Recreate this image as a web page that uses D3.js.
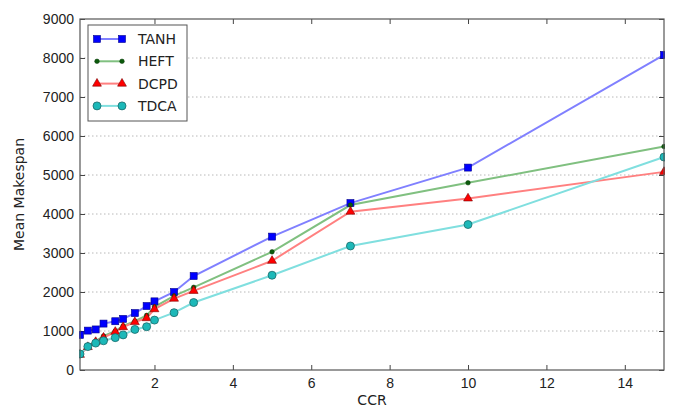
<!DOCTYPE html>
<html>
<head>
<meta charset="utf-8">
<script src="https://cdn.jsdelivr.net/npm/d3@7"></script>
<style>
  body { margin: 0; background: #fff; }
  svg { display: block; font-family: "DejaVu Sans", sans-serif; }
</style>
</head>
<body>
<div id="chart"></div>
<script>
// Data
const ccr = [0.1, 0.3, 0.5, 0.7, 1.0, 1.2, 1.5, 1.8, 2.0, 2.5, 3, 5, 7, 10, 15];
const tanh = [900, 1010, 1040, 1190, 1250, 1310, 1460, 1640, 1760, 2000, 2410, 3420, 4280, 5190, 8080];
const heft = [420, 600, 740, 870, 1000, 1130, 1250, 1400, 1620, 1900, 2120, 3030, 4230, 4800, 5730];
const dcpd = [390, 590, 720, 830, 980, 1100, 1230, 1330, 1560, 1830, 2030, 2800, 4060, 4400, 5080];
const tdca = [410, 600, 690, 750, 830, 900, 1040, 1110, 1280, 1470, 1730, 2430, 3180, 3730, 5460];
const xTicks = [2, 4, 6, 8, 10, 12, 14];
const yTicks = [0, 1000, 2000, 3000, 4000, 5000, 6000, 7000, 8000, 9000];

const series = [
  { name: 'TANH', values: tanh, line: '#8080ff', fill: '#0000ff', stroke: '#00008b', marker: 'square' },
  { name: 'HEFT', values: heft, line: '#80c080', fill: '#0b5a0b', stroke: '#0b3a0b', marker: 'dot' },
  { name: 'DCPD', values: dcpd, line: '#ff8080', fill: '#ff0000', stroke: '#7a0000', marker: 'triangle' },
  { name: 'TDCA', values: tdca, line: '#80dfdf', fill: '#1cb8b8', stroke: '#1a6a6a', marker: 'circle' }
];

const W = 673, H = 408;
const margin = { left: 80, right: 9, top: 19, bottom: 38 };
const iw = W - margin.left - margin.right;
const ih = H - margin.top - margin.bottom;

const svg = d3.select('#chart').append('svg')
  .attr('width', W)
  .attr('height', H);

const x = d3.scaleLinear().domain([0.1, 15]).range([0, iw]);
const y = d3.scaleLinear().domain([0, 9000]).range([ih, 0]);

const g = svg.append('g').attr('transform', `translate(${margin.left},${margin.top})`);

// horizontal dotted grid
g.append('g')
  .selectAll('line')
  .data(yTicks.slice(1, -1))
  .join('line')
  .attr('x1', 0).attr('x2', iw)
  .attr('y1', d => y(d)).attr('y2', d => y(d))
  .attr('stroke', '#b8b8b8')
  .attr('stroke-width', 1)
  .attr('stroke-dasharray', '1.5,2.5');

// axes: ticks pointing inward, labels outside
const axisLeft = d3.axisLeft(y).tickValues(yTicks).tickSize(-5).tickPadding(6).tickFormat(d3.format('d'));
const axisRight = d3.axisRight(y).tickValues(yTicks).tickSize(-5).tickFormat('');
const axisBottom = d3.axisBottom(x).tickValues(xTicks).tickSize(-5).tickPadding(8).tickFormat(d3.format('d'));
const axisTop = d3.axisTop(x).tickValues(xTicks).tickSize(-5).tickFormat('');

function styleAxis(sel) {
  sel.select('.domain').remove();
  sel.selectAll('.tick line').attr('stroke', '#444');
  sel.selectAll('.tick text').attr('fill', '#222').attr('font-size', 14);
}

g.append('g').call(axisLeft).call(styleAxis);
g.append('g').attr('transform', `translate(${iw},0)`).call(axisRight).call(styleAxis);
g.append('g').attr('transform', `translate(0,${ih})`).call(axisBottom).call(styleAxis);
g.append('g').call(axisTop).call(styleAxis);

// clip so the plotted lines stay in the frame
svg.append('clipPath').attr('id', 'plot-clip')
  .append('rect').attr('x', -1).attr('y', -1).attr('width', iw + 2).attr('height', ih + 2);

const plot = g.append('g').attr('clip-path', 'url(#plot-clip)');

const line = d3.line()
  .x((d, i) => x(ccr[i]))
  .y(d => y(d));

function drawMarker(sel, s) {
  if (s.marker === 'square') {
    sel.append('rect').attr('x', -3.5).attr('y', -3.5).attr('width', 7).attr('height', 7)
      .attr('fill', s.fill).attr('stroke', s.stroke).attr('stroke-width', 0.6);
  } else if (s.marker === 'dot') {
    sel.append('circle').attr('r', 2.3)
      .attr('fill', s.fill).attr('stroke', s.stroke).attr('stroke-width', 0.5);
  } else if (s.marker === 'triangle') {
    sel.append('path').attr('d', d3.symbol(d3.symbolTriangle, 34)())
      .attr('fill', s.fill).attr('stroke', s.stroke).attr('stroke-width', 0.6);
  } else {
    sel.append('circle').attr('r', 4)
      .attr('fill', s.fill).attr('stroke', s.stroke).attr('stroke-width', 0.8);
  }
}

series.forEach(s => {
  plot.append('path')
    .datum(s.values)
    .attr('fill', 'none')
    .attr('stroke', s.line)
    .attr('stroke-width', 2)
    .attr('d', line);
});

series.forEach(s => {
  plot.append('g')
    .selectAll('g')
    .data(s.values)
    .join('g')
    .attr('transform', (d, i) => `translate(${x(ccr[i])},${y(d)})`)
    .each(function() { drawMarker(d3.select(this), s); });
});

// frame
g.append('rect')
  .attr('width', iw).attr('height', ih)
  .attr('fill', 'none')
  .attr('stroke', '#555')
  .attr('stroke-width', 1.2);

// axis titles
svg.append('text')
  .attr('x', margin.left + iw / 2)
  .attr('y', 405)
  .attr('text-anchor', 'middle')
  .attr('fill', '#222')
  .attr('font-size', 14)
  .text('CCR');

svg.append('text')
  .attr('transform', `translate(24,${margin.top + ih / 2}) rotate(-90)`)
  .attr('text-anchor', 'middle')
  .attr('fill', '#222')
  .attr('font-size', 14)
  .text('Mean Makespan');

// legend
const legend = g.append('g').attr('transform', 'translate(8,6)');
legend.append('rect')
  .attr('width', 99).attr('height', 96)
  .attr('fill', '#fff')
  .attr('stroke', '#555')
  .attr('stroke-width', 1);

series.forEach((s, i) => {
  const row = legend.append('g').attr('transform', `translate(0,${14 + i * 22.3})`);
  row.append('line')
    .attr('x1', 9).attr('x2', 34)
    .attr('stroke', s.line).attr('stroke-width', 2);
  [9, 34].forEach(px => {
    const m = row.append('g').attr('transform', `translate(${px},0)`);
    drawMarker(m, s);
  });
  row.append('text')
    .attr('x', 50)
    .attr('dy', '0.35em')
    .attr('fill', '#222')
    .attr('font-size', 14)
    .text(s.name);
});
</script>
</body>
</html>
